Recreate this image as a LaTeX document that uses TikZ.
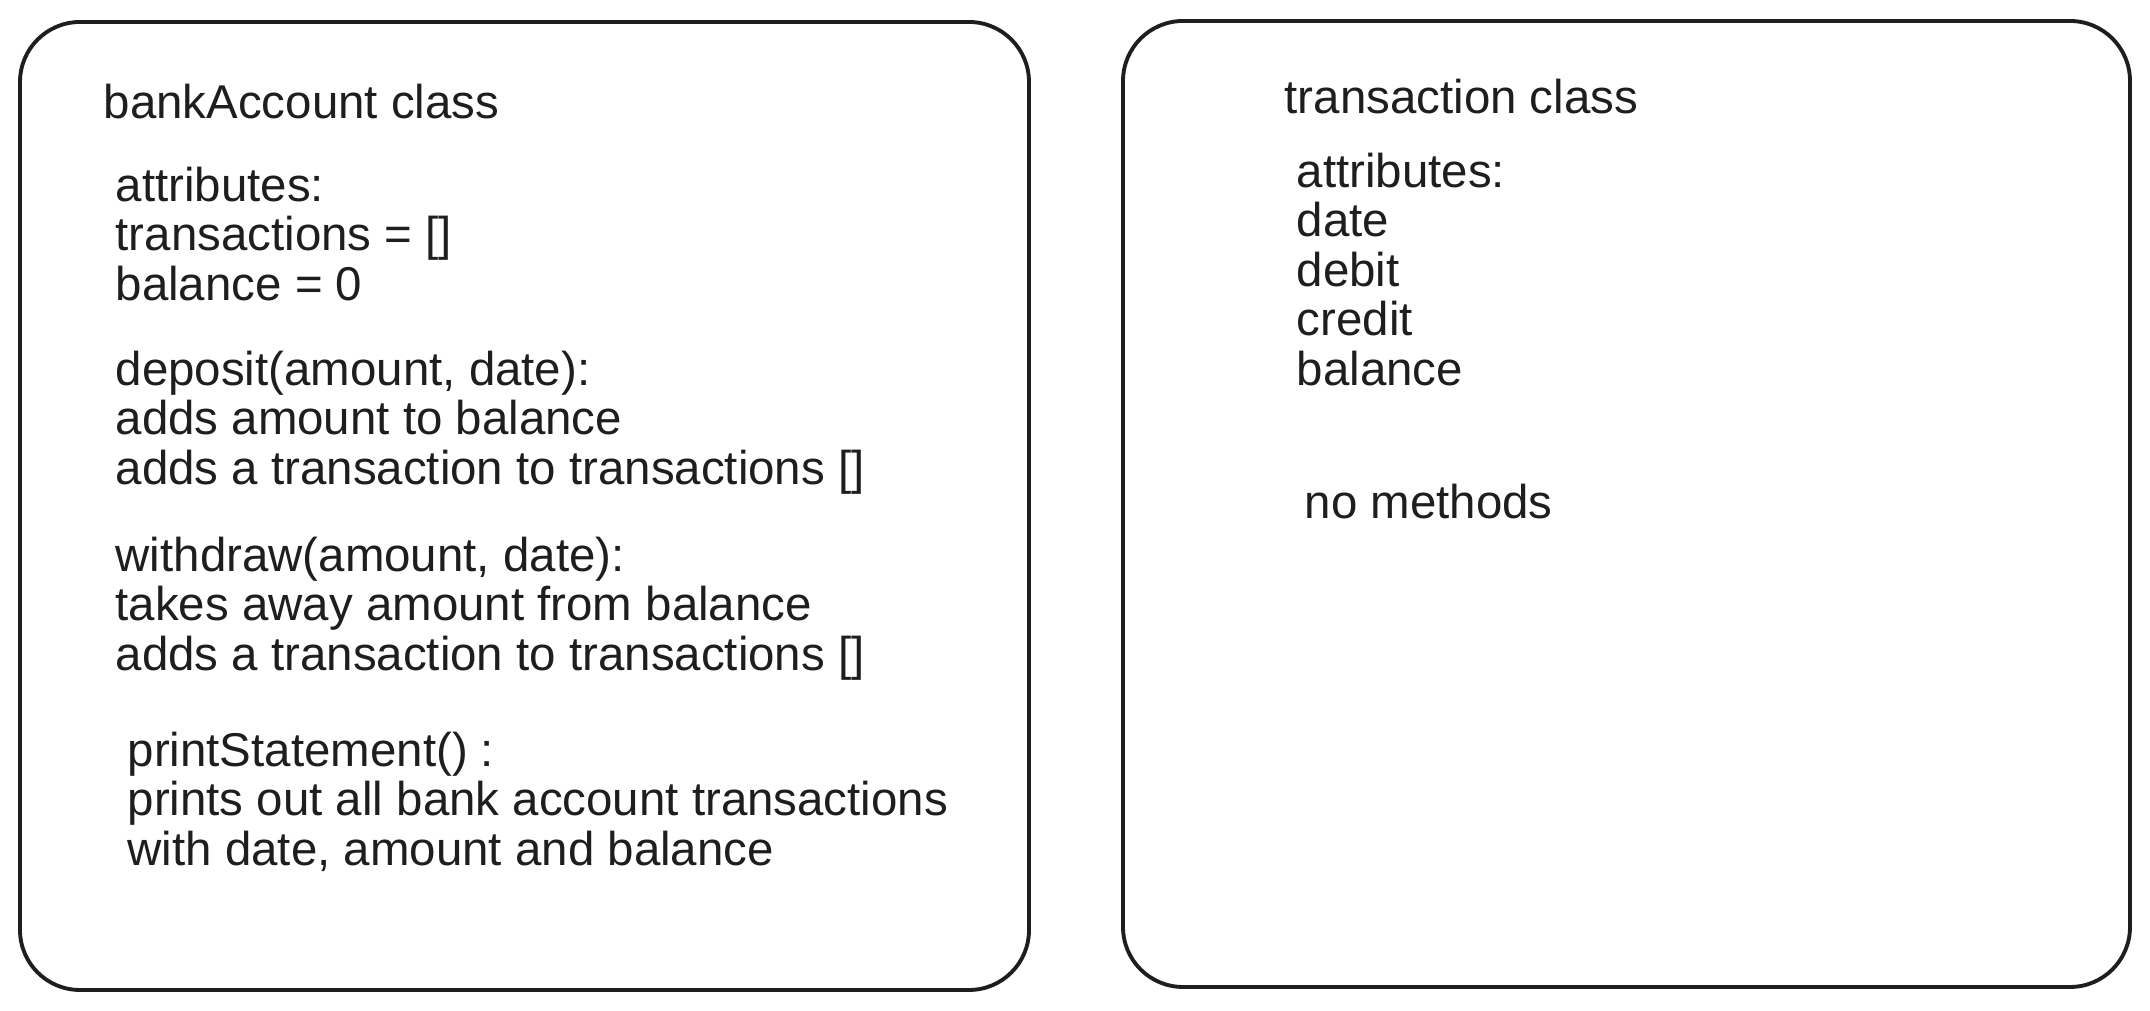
\documentclass[tikz,border=0pt]{standalone}
\usepackage{fontspec}
\setmainfont{Liberation Sans}
\usepackage{tikz}
\tikzset{>=latex}
\definecolor{myink}{RGB}{30, 30, 30}
\tikzset{classbox/.style={draw=myink, line width=1.1pt, rounded corners=0.6cm},
  hand/.style={anchor=north west, inner sep=0pt, align=left, text=myink,
    font=\fontsize{13.5}{14.1}\selectfont}}

\begin{document}
\begin{tikzpicture}[scale=1]
\useasboundingbox (0, 0) rectangle (21.5, 10.11);
\draw[classbox] (0.2, 9.89) rectangle (10.29, 0.21);
\draw[classbox] (11.23, 9.9) rectangle (21.3, 0.24);

\node[hand] (bankTitle) at (1.03, 9.28) {bankAccount class};
\node[hand] (bankAttr) at (1.15, 8.45) {attributes:\\transactions = []\\balance = 0};
\node[hand] (bankDeposit) at (1.15, 6.61) {deposit(amount, date):\\adds amount to balance\\adds a transaction to transactions []};
\node[hand] (bankWithdraw) at (1.15, 4.75) {withdraw(amount, date):\\takes away amount from balance\\adds a transaction to transactions []};
\node[hand] (bankPrint) at (1.27, 2.80) {printStatement() :\\prints out all bank account transactions\\with date, amount and balance};

\node[hand] (transTitle) at (12.84, 9.33) {transaction class};
\node[hand] (transAttr) at (12.96, 8.59) {attributes:\\date\\debit\\credit\\balance};
\node[hand] (transMethods) at (13.04, 5.28) {no methods};

\end{tikzpicture}
\end{document}
